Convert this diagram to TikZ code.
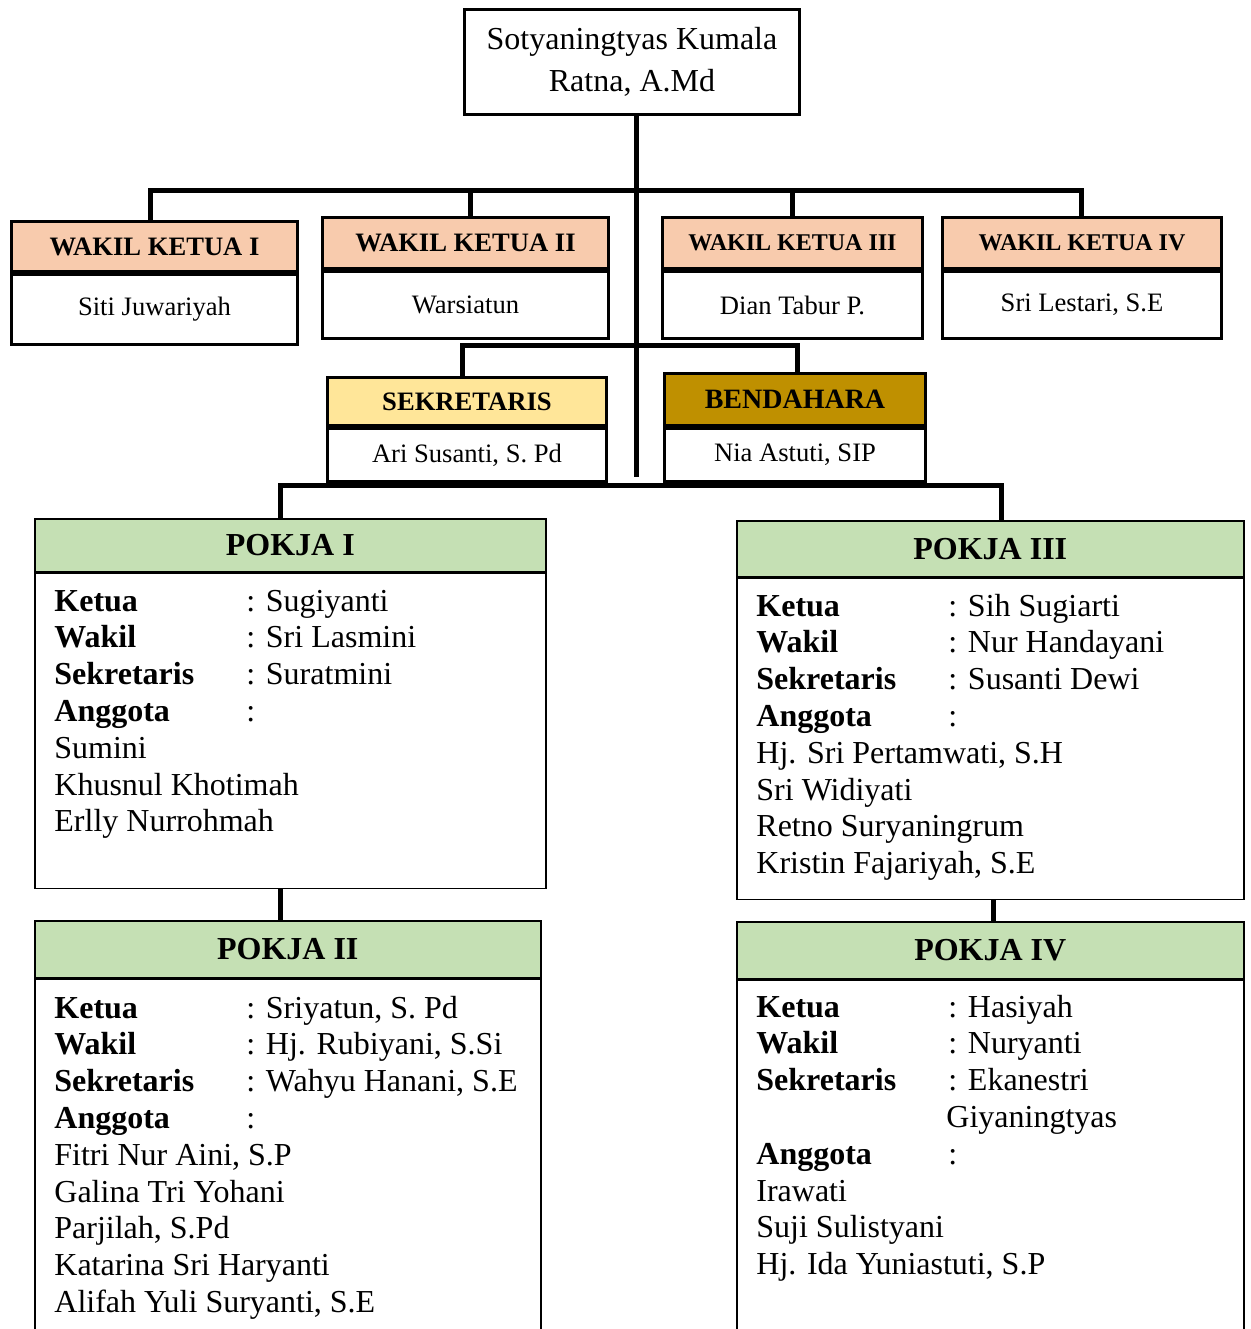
\documentclass[tikz,border=0pt]{standalone}
\usepackage{fontspec}
\setmainfont{Liberation Serif}
\definecolor{peach}{HTML}{F8CBAD}
\definecolor{sekc}{HTML}{FFE699}
\definecolor{bendc}{HTML}{BF9000}
\definecolor{pgreen}{HTML}{C5E0B4}
\begin{document}
\begin{tikzpicture}[x=0.5pt,y=-0.5pt,
  box/.style={draw, line width=1.5pt, inner sep=0pt, anchor=north west, align=center},
  tbox/.style={draw, line width=0.75pt, inner sep=0pt, anchor=north west, align=center},
  sz/.style 2 args={minimum width=#1*0.5pt, minimum height=#2*0.5pt},
  conn/.style={line width=2.5pt},
  hd/.style={font=\fontsize{13.3}{16}\selectfont\bfseries},
  hds/.style={font=\fontsize{12}{15}\selectfont\bfseries},
  nm/.style={font=\fontsize{13.3}{16}\selectfont},
  ph/.style={font=\fontsize{16}{19}\selectfont\bfseries},
  ln/.style={anchor=base west, inner sep=0pt, font=\fontsize{16}{19}\selectfont}]
\useasboundingbox (0,0) rectangle (1250,1329);
\clip (0,0) rectangle (1250,1329);

% top
\node[box, sz={335}{105}, font=\fontsize{16}{21}\selectfont] (top) at (463,8) {Sotyaningtyas Kumala\\Ratna, A.Md};

% wakil
\node[box, sz={286}{50}, fill=peach, hd] (wk1h) at (10,220) {WAKIL KETUA I};
\node[box, sz={286}{70}, nm] (wk1n) at (wk1h.south west) {Siti Juwariyah};
\node[box, sz={286}{51}, fill=peach, hd] (wk2h) at (321,216) {WAKIL KETUA II};
\node[box, sz={286}{67}, nm] (wk2n) at (wk2h.south west) {Warsiatun};
\node[box, sz={260}{51}, fill=peach, hds] (wk3h) at (661,216) {WAKIL KETUA III};
\node[box, sz={260}{67}, nm] (wk3n) at (wk3h.south west) {Dian Tabur P.};
\node[box, sz={279}{51}, fill=peach, hds] (wk4h) at (941,216) {WAKIL KETUA IV};
\node[box, sz={279}{67}, nm] (wk4n) at (wk4h.south west) {Sri Lestari, S.E};

% sekretaris / bendahara
\node[box, sz={279}{48}, fill=sekc, hd] (sekh) at (326,376) {SEKRETARIS};
\node[box, sz={279}{53}, nm] (sekn) at (sekh.south west) {Ari Susanti, S. Pd};
\node[box, sz={261}{52}, fill=bendc, font=\fontsize{14}{16}\selectfont\bfseries] (bendh) at (663,372) {BENDAHARA};
\node[box, sz={261}{53}, nm] (bendn) at (bendh.south west) {Nia Astuti, SIP};

% pokja boxes
\node[tbox, sz={511}{53}, fill=pgreen, ph, text depth=-3.5pt] (p1h) at (34,518) {POKJA I};
\node[tbox, sz={511}{315}] (p1b) at (p1h.south west) {};
\node[tbox, sz={507}{56}, fill=pgreen, ph] (p3h) at (736,520) {POKJA III};
\node[tbox, sz={507}{321}] (p3b) at (p3h.south west) {};
\node[tbox, sz={506}{57}, fill=pgreen, ph] (p2h) at (34,920) {POKJA II};
\node[tbox, sz={506}{420}] (p2b) at (p2h.south west) {};
\node[tbox, sz={507}{57}, fill=pgreen, ph] (p4h) at (736,921) {POKJA IV};
\node[tbox, sz={507}{420}] (p4b) at (p4h.south west) {};

% connectors
\coordinate (bus) at (636,190);
\coordinate (trunkend) at (636,477);
\coordinate (sbbar) at (636,345);
\coordinate (pbar) at (636,485);
\draw[conn] (trunkend |- top.south) -- (trunkend);
\draw[conn] ([xshift=-2pt]wk1h.north) |- (bus) -| ([xshift=-0.5pt]wk4h.north);
\draw[conn] ([xshift=2.5pt]wk2h.north) -- ([xshift=2.5pt]wk2h.north |- bus);
\draw[conn] (wk3h.north) -- (wk3h.north |- bus);
\draw[conn] ([xshift=-2.5pt]sekh.north) |- (sbbar) -| ([xshift=1pt]bendh.north);
\draw[conn] ([xshift=-4.75pt]p1h.north) |- (pbar) -| ([xshift=5.5pt]p3h.north);
\draw[conn] ([xshift=-4.75pt]p1b.south) -- ([xshift=-3.5pt]p2h.north);
\draw[conn] ([xshift=1.5pt]p3b.south) -- ([xshift=1.5pt]p4h.north);

% POKJA I text
\foreach \lab/\val [count=\i from 0] in {Ketua/Sugiyanti, Wakil/Sri Lasmini, Sekretaris/Suratmini, Anggota/{}}{
  \node[ln] (p1a\i) at (54,611+\i*36.8) {\textbf{\lab}};
  \node[ln] (p1c\i) at (246,611+\i*36.8) {: \val};
}
\foreach \val [count=\i from 4] in {Sumini, Khusnul Khotimah, Erlly Nurrohmah}{
  \node[ln] (p1n\i) at (54,611+\i*36.8) {\val};
}

% POKJA III text
\foreach \lab/\val [count=\i from 0] in {Ketua/Sih Sugiarti, Wakil/Nur Handayani, Sekretaris/Susanti Dewi, Anggota/{}}{
  \node[ln] (p3a\i) at (756,616+\i*36.8) {\textbf{\lab}};
  \node[ln] (p3c\i) at (948,616+\i*36.8) {: \val};
}
\foreach \val [count=\i from 4] in {{Hj. Sri Pertamwati, S.H}, Sri Widiyati, Retno Suryaningrum, {Kristin Fajariyah, S.E}}{
  \node[ln] (p3n\i) at (756,616+\i*36.8) {\val};
}

% POKJA II text
\foreach \lab/\val [count=\i from 0] in {Ketua/{Sriyatun, S. Pd}, Wakil/{Hj. Rubiyani, S.Si}, Sekretaris/{Wahyu Hanani, S.E}, Anggota/{}}{
  \node[ln] (p2a\i) at (54,1018+\i*36.8) {\textbf{\lab}};
  \node[ln] (p2c\i) at (246,1018+\i*36.8) {: \val};
}
\foreach \val [count=\i from 4] in {{Fitri Nur Aini, S.P}, Galina Tri Yohani, {Parjilah, S.Pd}, Katarina Sri Haryanti, {Alifah Yuli Suryanti, S.E}}{
  \node[ln] (p2n\i) at (54,1018+\i*36.8) {\val};
}

% POKJA IV text
\foreach \lab/\val/\k in {Ketua/Hasiyah/0, Wakil/Nuryanti/1, Sekretaris/Ekanestri/2, Anggota/{}/4}{
  \node[ln] (p4a\k) at (756,1017+\k*36.8) {\textbf{\lab}};
  \node[ln] (p4c\k) at (948,1017+\k*36.8) {: \val};
}
\node[ln] (p4g) at (946,1017+3*36.8) {Giyaningtyas};
\foreach \val [count=\i from 5] in {Irawati, Suji Sulistyani, {Hj. Ida Yuniastuti, S.P}}{
  \node[ln] (p4n\i) at (756,1017+\i*36.8) {\val};
}
\end{tikzpicture}
\end{document}
